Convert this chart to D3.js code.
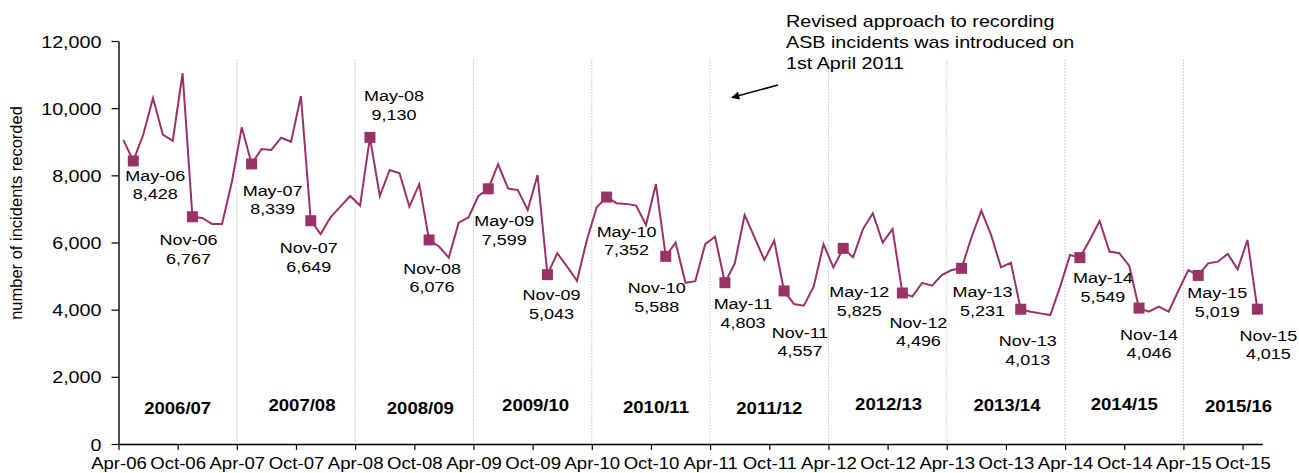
<!DOCTYPE html>
<html>
<head>
<meta charset="utf-8">
<script src="https://cdn.jsdelivr.net/npm/d3@7"></script>
<style>
  html, body { margin: 0; padding: 0; background: #fff; }
  svg { display: block; }
  text { font-family: "Liberation Sans", Arial, sans-serif; fill: #000; }
</style>
</head>
<body>
<svg id="chart" width="1299" height="473"></svg>
<script>
// ---------------- DATA ----------------
const startYear = 2006;            // first month = April 2006
const monthAbbr = ["Apr","May","Jun","Jul","Aug","Sep","Oct","Nov","Dec","Jan","Feb","Mar"];

// Monthly ASB incidents, grouped by financial year (Apr..Mar)
const fy0607 = [9050, 8428, 9200, 10300, 9210, 9030, 11040, 6767, 6730, 6550, 6550, 7810];
const fy0708 = [9430, 8339, 8785, 8755, 9120, 9000, 10360, 6649, 6250, 6750, 7070, 7385];
const fy0809 = [7100, 9130, 7385, 8160, 8060, 7070, 7740, 6076, 5880, 5550, 6590, 6750];
const fy0910 = [7385, 7599, 8330, 7610, 7560, 6970, 8010, 5043, 5680, 5280, 4860, 6075];
const fy1011 = [7050, 7352, 7170, 7150, 7100, 6520, 7740, 5588, 6000, 4800, 4850, 5950];
const fy1112 = [6170, 4803, 5380, 6820, 6150, 5480, 6055, 4557, 4170, 4120, 4685, 5950];
const fy1213 = [5260, 5825, 5560, 6400, 6870, 6000, 6400, 4496, 4390, 4800, 4715, 5030];
const fy1314 = [5180, 5231, 6150, 6950, 6220, 5260, 5400, 4013, 3940, 3890, 3840, 4685];
const fy1415 = [5630, 5549, 6075, 6640, 5730, 5680, 5310, 4046, 3940, 4090, 3940, 4570];
const fy1516 = [5180, 5019, 5380, 5430, 5660, 5200, 6075, 4015];

const fiscalYears = ["2006/07","2007/08","2008/09","2009/10","2010/11","2011/12","2012/13","2013/14","2014/15","2015/16"];
const xTickLabels = ["Apr-06","Oct-06","Apr-07","Oct-07","Apr-08","Oct-08","Apr-09","Oct-09","Apr-10","Oct-10",
                     "Apr-11","Oct-11","Apr-12","Oct-12","Apr-13","Oct-13","Apr-14","Oct-14","Apr-15","Oct-15"];
const yTicks = [0, 2000, 4000, 6000, 8000, 10000, 12000];
const labelledMonths = ["May","Nov"];
const yTitle = "number of incidents recorded";
const noteLines = ["Revised approach to recording", "ASB incidents was introduced on", "1st April 2011"];

// ---------------- LAYOUT (positions / styles only) ----------------
const plot = { left: 118.5, right: 1262.3, top: 41, bottom: 444 };
const COLOR = "#993366";
const SX = 1.16;                       // horizontal text stretch
const dividerTop = 11450;              // value where dotted year dividers start
// data label offsets [dx, dy] of first line centre from marker, in order of labelled points
const labelOffsets = [
  [22,14],[-4,23],[21,26],[-2,27],[24,-42],[3,28],[16,32],[4,20],[20,34],[-9,31],
  [18,21],[16,41],[16,43],[16,29],[21,23],[7,31],[23,20],[10,26],[19,17],[11,26]
];
const yearLabelOffsets = [[0,2],[6,-1],[6,2],[3,-1],[5,1],[0,2],[1,-2],[1,-1],[0,-2],[-4,0]];

// ---------------- BUILD ----------------
const values = [].concat(fy0607, fy0708, fy0809, fy0910, fy1011, fy1112, fy1213, fy1314, fy1415, fy1516);
const data = values.map((v, i) => {
  const m = monthAbbr[i % 12];
  const fyStart = startYear + Math.floor(i / 12);
  const yr = (i % 12) >= 9 ? fyStart + 1 : fyStart;
  return { i, v, month: m, label: m + "-" + String(yr).slice(2) };
});

const svg = d3.select("#chart");
const x = d3.scaleLinear().domain([0, values.length]).range([plot.left, plot.right]);
const y = d3.scaleLinear().domain([0, 12000]).range([plot.bottom, plot.top]);
const px = d => x(d.i + 0.5);
const fmt = d3.format(",");

// dotted year dividers
svg.append("g").selectAll("line")
  .data(d3.range(1, fiscalYears.length))
  .join("line")
  .attr("x1", k => x(k * 12)).attr("x2", k => x(k * 12))
  .attr("y1", y(dividerTop)).attr("y2", y(0))
  .attr("stroke", "#a0a0a0").attr("stroke-width", 1)
  .attr("stroke-dasharray", "1,2");

// year labels
svg.append("g").selectAll("text")
  .data(fiscalYears)
  .join("text")
  .attr("text-anchor", "middle")
  .attr("font-weight", "bold")
  .attr("font-size", 16)
  .attr("transform", (d, k) => `translate(${x(k * 12 + 6) + yearLabelOffsets[k][0]},${412 + yearLabelOffsets[k][1]}) scale(${SX},1)`)
  .text(d => d);

// y axis
const yAxis = svg.append("g")
  .attr("transform", `translate(${plot.left},0)`)
  .call(d3.axisLeft(y).tickValues(yTicks).tickFormat(fmt).tickSize(7).tickSizeOuter(0));
yAxis.select(".domain").attr("stroke", "#000").attr("stroke-width", 1.4);
yAxis.selectAll(".tick line").attr("stroke", "#000").attr("stroke-width", 1.2);
yAxis.selectAll(".tick text")
  .attr("x", 0).attr("dy", null)
  .attr("font-size", 17).attr("font-family", "Liberation Sans, Arial, sans-serif").attr("fill", "#000")
  .attr("transform", `translate(-17,6) scale(${SX},1)`);

// x axis
const xAxis = svg.append("g")
  .attr("transform", `translate(0,${plot.bottom})`)
  .call(d3.axisBottom(x).tickValues(d3.range(0, values.length, 6)).tickFormat((d, k) => xTickLabels[k]).tickSize(6).tickSizeOuter(0));
xAxis.select(".domain").attr("stroke", "#000").attr("stroke-width", 1.4);
xAxis.selectAll(".tick line").attr("stroke", "#000").attr("stroke-width", 1.2);
xAxis.selectAll(".tick text")
  .attr("y", 0).attr("dy", null)
  .attr("font-size", 16).attr("font-family", "Liberation Sans, Arial, sans-serif").attr("fill", "#000")
  .attr("transform", `translate(0,25) scale(${SX},1)`);

// y title
svg.append("text")
  .attr("text-anchor", "middle")
  .attr("font-size", 16.5)
  .attr("transform", "translate(22,213) rotate(-90)")
  .text(yTitle);

// line
svg.append("path")
  .datum(data)
  .attr("fill", "none")
  .attr("stroke", COLOR)
  .attr("stroke-width", 2)
  .attr("stroke-linejoin", "miter")
  .attr("d", d3.line().x(px).y(d => y(d.v)));

// markers + labels
const marked = data.filter(d => labelledMonths.includes(d.month));
svg.append("g").selectAll("rect")
  .data(marked)
  .join("rect")
  .attr("x", d => px(d) - 5.5).attr("y", d => y(d.v) - 5.5)
  .attr("width", 11).attr("height", 11)
  .attr("fill", COLOR);

const lbl = svg.append("g").selectAll("g")
  .data(marked)
  .join("g")
  .attr("transform", (d, k) => `translate(${px(d) + labelOffsets[k][0]},${y(d.v) + labelOffsets[k][1]})`);
lbl.append("text")
  .attr("text-anchor", "middle").attr("font-size", 15.5)
  .attr("transform", `translate(0,5.6) scale(${SX},1)`)
  .text(d => d.label);
lbl.append("text")
  .attr("text-anchor", "middle").attr("font-size", 15.5)
  .attr("transform", `translate(0,24.3) scale(${SX},1)`)
  .text(d => fmt(d.v));

// annotation
const note = svg.append("g");
note.selectAll("text")
  .data(noteLines)
  .join("text")
  .attr("font-size", 17)
  .attr("transform", (d, k) => `translate(786,${27 + k * 21}) scale(${SX},1)`)
  .text(d => d);

svg.append("defs").append("marker")
  .attr("id", "arrow").attr("viewBox", "0 0 10 10")
  .attr("refX", 9).attr("refY", 5)
  .attr("markerWidth", 10).attr("markerHeight", 8)
  .attr("markerUnits", "userSpaceOnUse")
  .attr("orient", "auto")
  .append("path").attr("d", "M0,0L10,5L0,10Z").attr("fill", "#000");
svg.append("line")
  .attr("x1", 778).attr("y1", 85).attr("x2", 732).attr("y2", 97.5)
  .attr("stroke", "#000").attr("stroke-width", 1.5)
  .attr("marker-end", "url(#arrow)");
</script>
</body>
</html>
